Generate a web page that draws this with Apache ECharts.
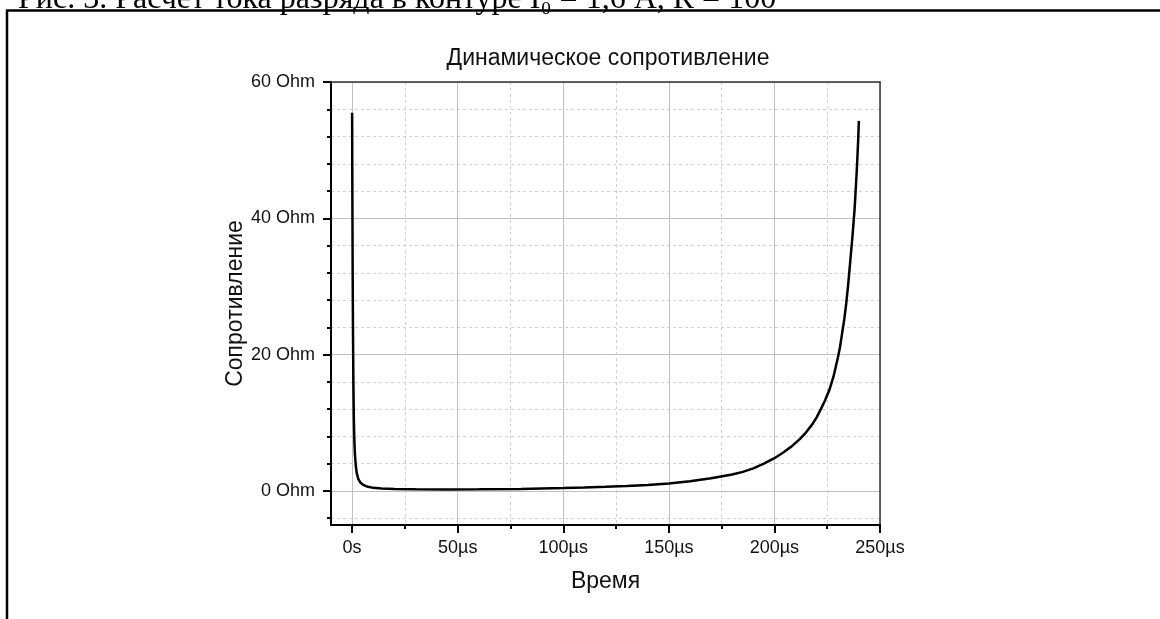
<!DOCTYPE html>
<html>
<head>
<meta charset="utf-8">
<title>Динамическое сопротивление</title>
<script src="https://cdn.jsdelivr.net/npm/echarts@6/dist/echarts.min.js"></script>
<style>
  html, body { margin: 0; padding: 0; background: #fff; }
  #chart { width: 1160px; height: 619px; }
</style>
</head>
<body>
<div id="chart"></div>
<script>
// Time samples, µs
const timeUs = [
  0, 0.1, 0.25, 0.4, 0.6, 0.8, 1.0, 1.3, 1.7, 2.2, 3, 4, 5.5, 7.5, 10, 14, 20, 30,
  45, 60, 80, 100, 110, 120, 130, 140, 150, 160, 170, 180, 185, 190, 195, 200, 204, 208, 212,
  215, 218, 220, 222, 224, 226, 228, 230, 231, 232, 233, 234, 235, 236, 237, 238,
  239, 239.6, 240
];
// Dynamic resistance at each sample, Ohm
const resistanceOhm = [
  55.5, 45, 33, 24, 16, 11, 8, 5.5, 3.8, 2.6, 1.7, 1.2, 0.85, 0.6, 0.45, 0.35, 0.28, 0.24,
  0.22, 0.24, 0.3, 0.42, 0.5, 0.6, 0.72, 0.88, 1.1, 1.42, 1.85, 2.4, 2.8, 3.3, 4.0, 4.8, 5.6, 6.5, 7.6,
  8.6, 9.8, 10.8, 12.0, 13.3, 14.8, 16.8, 19.5, 21, 23, 25, 27.5, 30.5, 34, 37.5, 41.5,
  47, 51, 54.3
];

// Axis ticks
const timeMajorTicks = [0, 50, 100, 150, 200, 250];
const timeMinorTicks = [25, 75, 125, 175, 225];
const resMajorTicks = [0, 20, 40, 60];
const resMinorTicks = [-4, 4, 8, 12, 16, 24, 28, 32, 36, 44, 48, 52, 56];

const titleText = 'Динамическое сопротивление';
const xName = 'Время';
const yName = 'Сопротивление';
const captionText = 'Рис. 3. Расчет тока разряда в контуре I₀ = 1,6 A, R = 100';

const X_MIN = -10, X_MAX = 250, Y_MIN = -5, Y_MAX = 60;
const FONT = '"Liberation Sans", Arial, sans-serif';

const points = timeUs.map((t, i) => [t, resistanceOhm[i]]);

const chart = echarts.init(document.getElementById('chart'), null, { renderer: 'canvas' });

const hidden = { show: false };

chart.setOption({
  animation: false,
  backgroundColor: '#ffffff',
  title: {
    text: titleText,
    left: 603,
    top: 42,
    textAlign: 'center',
    textStyle: { fontFamily: FONT, fontSize: 23, fontWeight: 'normal', color: '#111' }
  },
  grid: { left: 331, right: 280, top: 82, bottom: 94, show: false },
  xAxis: [
    {
      type: 'value', min: X_MIN, max: X_MAX, position: 'bottom',
      name: xName, nameLocation: 'middle', nameGap: 45,
      nameTextStyle: { fontFamily: FONT, fontSize: 23, color: '#111' },
      axisLine: { show: true, onZero: false, lineStyle: { color: '#000', width: 2 } },
      axisTick: { show: true, inside: false, length: 8, customValues: timeMajorTicks,
                  lineStyle: { color: '#000', width: 2 } },
      axisLabel: { show: true, margin: 14, customValues: timeMajorTicks,
                   fontFamily: FONT, fontSize: 18, color: '#111',
                   formatter: v => (v === 0 ? '0s' : v + 'µs') },
      splitLine: { show: true, lineStyle: { color: '#c0c0c0', width: 1, type: 'solid' } }
    },
    {
      type: 'value', min: X_MIN, max: X_MAX, position: 'bottom',
      axisLine: { show: false, onZero: false },
      axisTick: { show: true, inside: false, length: 4, customValues: timeMinorTicks,
                  lineStyle: { color: '#000', width: 2 } },
      axisLabel: hidden,
      splitLine: { show: true, lineStyle: { color: '#d0d0d0', width: 1, type: [3, 3] } }
    },
    {
      type: 'value', min: X_MIN, max: X_MAX, position: 'top',
      axisLine: { show: true, onZero: false, lineStyle: { color: '#333', width: 1.5 } },
      axisTick: hidden, axisLabel: hidden, splitLine: hidden
    }
  ],
  yAxis: [
    {
      type: 'value', min: Y_MIN, max: Y_MAX, position: 'left',
      name: yName, nameLocation: 'middle', nameGap: 84, nameRotate: 90,
      nameTextStyle: { fontFamily: FONT, fontSize: 23, color: '#111' },
      axisLine: { show: true, onZero: false, lineStyle: { color: '#000', width: 2 } },
      axisTick: { show: true, inside: false, length: 8, customValues: resMajorTicks,
                  lineStyle: { color: '#000', width: 2 } },
      axisLabel: { show: true, margin: 16, customValues: resMajorTicks,
                   fontFamily: FONT, fontSize: 18, color: '#111',
                   formatter: v => v + ' Ohm' },
      splitLine: { show: true, lineStyle: { color: '#c0c0c0', width: 1, type: 'solid' } }
    },
    {
      type: 'value', min: Y_MIN, max: Y_MAX, position: 'left',
      axisLine: { show: false, onZero: false },
      axisTick: { show: true, inside: false, length: 4, customValues: resMinorTicks,
                  lineStyle: { color: '#000', width: 2 } },
      axisLabel: hidden,
      splitLine: { show: true, lineStyle: { color: '#d0d0d0', width: 1, type: [3, 3] } }
    },
    {
      type: 'value', min: Y_MIN, max: Y_MAX, position: 'right',
      axisLine: { show: true, onZero: false, lineStyle: { color: '#333', width: 1.5 } },
      axisTick: hidden, axisLabel: hidden, splitLine: hidden
    }
  ],
  series: [
    {
      type: 'line',
      xAxisIndex: 0,
      yAxisIndex: 0,
      data: points,
      showSymbol: false,
      smooth: false,
      clip: true,
      lineStyle: { color: '#000', width: 2.5 },
      z: 5
    }
  ],
  graphic: [
    // page frame
    { type: 'line', silent: true, shape: { x1: 6, y1: 10.5, x2: 1160, y2: 10.5 },
      style: { stroke: '#000', lineWidth: 2.5 } },
    { type: 'line', silent: true, shape: { x1: 7, y1: 10, x2: 7, y2: 619 },
      style: { stroke: '#000', lineWidth: 2.5 } },
    // figure caption
    { type: 'text', silent: true, x: 18, y: -0.5,
      style: { text: captionText, fill: '#000', font: '32px "Liberation Serif", serif',
               verticalAlign: 'middle', align: 'left' } }
  ]
});
</script>
</body>
</html>
